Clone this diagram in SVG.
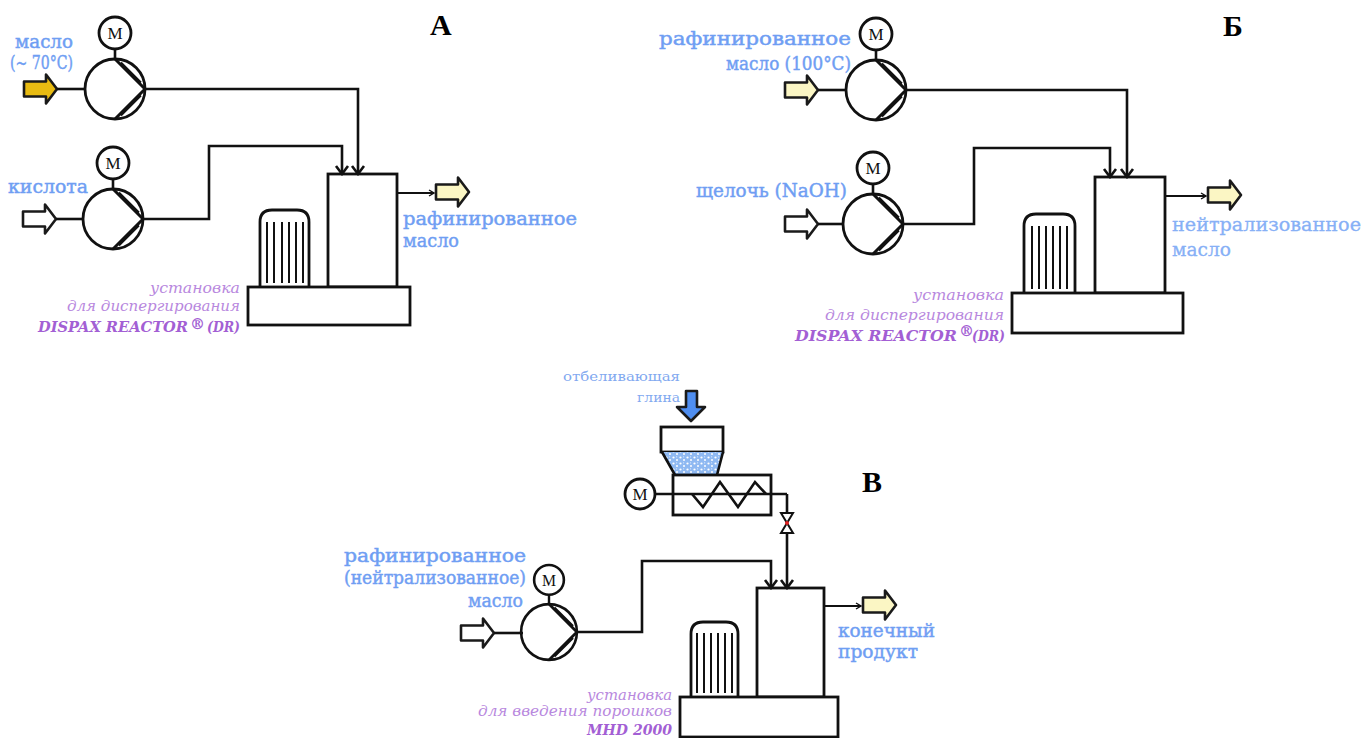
<svg xmlns="http://www.w3.org/2000/svg" width="1365" height="738" viewBox="0 0 1365 738">
<defs>
<style>
.ln{fill:none;stroke:#111;stroke-width:2.6}
.pipe{fill:none;stroke:#111;stroke-width:2.6;marker-end:url(#chev)}
.out{fill:none;stroke:#111;stroke-width:2;marker-end:url(#tick)}
.eq{fill:#fff;stroke:#111;stroke-width:2.8}
.fin{fill:none;stroke:#111;stroke-width:2}
.arw{stroke:#1a1a1a;stroke-width:2.6;stroke-linejoin:round}
.lbl{font-family:"DejaVu Serif","Liberation Serif",serif;font-size:18px;fill:#6f9ef3;stroke:#6f9ef3;stroke-width:0.45}
.lbl2{font-family:"DejaVu Serif","Liberation Serif",serif;font-size:18px;fill:#87b0f6;stroke:#87b0f6;stroke-width:0.3}
.note{font-family:"DejaVu Serif","Liberation Serif",serif;font-size:12px;fill:#82a9f0}
.pur{font-family:"DejaVu Serif","Liberation Serif",serif;font-style:italic;font-size:15px;fill:#b888de}
.purb{font-family:"DejaVu Serif","Liberation Serif",serif;font-style:italic;font-weight:bold;font-size:15px;fill:#a35fd4}
.tag{font-family:"Liberation Serif","Times New Roman",serif;font-weight:bold;font-size:30px;fill:#000}
.mt{font-family:"Liberation Serif","Times New Roman",serif;font-size:17px;fill:#111;text-anchor:middle}
.end{text-anchor:end}
</style>
<!-- block arrow, tip at origin, pointing right -->
<path id="blockArrow" d="M-33,-7.5 H-11 V-14.5 L0,0 L-11,14.5 V7.5 H-33 Z"/>
<!-- centrifugal pump with drive motor above -->
<g id="pump">
  <circle r="30" class="eq"/>
  <path fill="none" stroke="#111" stroke-width="3" d="M0,-30 L30,0 L0,30"/>
  <path fill="none" stroke="#111" stroke-width="1.8" d="M6,-26.5 L26,-6.5 M6,26.5 L26,6.5"/>
  <line class="ln" x1="0" y1="-30" x2="0" y2="-40"/>
  <circle cy="-56" r="16" class="eq" stroke-width="2.4"/>
  <text class="mt" y="-50">M</text>
</g>
<marker id="chev" viewBox="-10 -8 12 16" refX="0" refY="0" markerWidth="12" markerHeight="16" markerUnits="userSpaceOnUse" orient="auto">
  <path d="M-8,-6 L0,0 L-8,6" fill="none" stroke="#111" stroke-width="2.6"/>
</marker>
<marker id="tick" viewBox="-7 -5 8 10" refX="0" refY="0" markerWidth="8" markerHeight="10" markerUnits="userSpaceOnUse" orient="auto">
  <path d="M-5,-3 L0,0 L-5,3" fill="none" stroke="#111" stroke-width="1.4"/>
</marker>
<pattern id="powder" width="7" height="6" patternUnits="userSpaceOnUse">
  <rect width="7" height="6" fill="#8fb9f2"/>
  <circle cx="1.5" cy="1.5" r="1.1" fill="#fff"/>
  <circle cx="5" cy="4" r="1" fill="#fff"/>
  <circle cx="4.6" cy="0.8" r="0.6" fill="#dceaff"/>
</pattern>
</defs>

<rect width="1365" height="738" fill="#fff"/>

<!-- ===== А : acid treatment ===== -->
<g id="a-tag"><text class="tag" x="430" y="35">А</text></g>

<g id="a-oil-pump" transform="translate(115,89)"><use href="#pump"/></g>
<g id="a-acid-pump" transform="translate(113,219)"><use href="#pump"/></g>

<g id="a-oil-in"><use href="#blockArrow" transform="translate(57,89)" fill="#e8bb12" class="arw"/></g>
<g id="a-acid-in"><use href="#blockArrow" transform="translate(56,219)" fill="#fff" class="arw"/></g>
<g id="a-product-out"><use href="#blockArrow" transform="translate(469,192)" fill="#fbf6c4" class="arw"/></g>

<g id="a-reactor">
  <path class="eq" d="M260,287 V222 Q260,210 272,210 H297 Q309,210 309,222 V287"/>
  <path class="fin" d="M267,222 V283 M274,222 V283 M282,222 V283 M289,222 V283 M296,222 V283 M303,222 V283"/>
  <rect class="eq" x="328" y="174" width="69" height="113"/>
  <rect class="eq" x="248" y="287" width="162" height="38"/>
</g>

<g id="a-connectors">
  <path class="ln" d="M57,89 H85"/>
  <path class="ln" d="M56,219 H83"/>
  <path class="pipe" d="M145,89 H358 V174"/>
  <path class="pipe" d="M143,219 H209 V146 H342 V174"/>
  <path class="out" d="M397,193 H434"/>
</g>

<g id="a-labels">
  <text class="lbl end" x="73" y="48" textLength="58" lengthAdjust="spacingAndGlyphs">масло</text>
  <text class="lbl end" x="73" y="69" font-size="15" textLength="63" lengthAdjust="spacingAndGlyphs">(~ 70°C)</text>
  <text class="lbl" x="8" y="193" textLength="80" lengthAdjust="spacingAndGlyphs">кислота</text>
  <text class="lbl" x="403" y="225" textLength="174" lengthAdjust="spacingAndGlyphs">рафинированное</text>
  <text class="lbl" x="403" y="247" textLength="56" lengthAdjust="spacingAndGlyphs">масло</text>
  <text class="pur end" x="240" y="293" textLength="90" lengthAdjust="spacingAndGlyphs">установка</text>
  <text class="pur end" x="240" y="311" textLength="173" lengthAdjust="spacingAndGlyphs">для диспергирования</text>
  <text class="purb" x="38" y="332" textLength="150" lengthAdjust="spacingAndGlyphs">DISPAX REACTOR</text>
  <text class="purb" x="190" y="329" font-size="7">®</text>
  <text class="purb end" x="240" y="332" textLength="33" lengthAdjust="spacingAndGlyphs">(DR)</text>
</g>

<!-- ===== Б : neutralisation ===== -->
<g id="b-tag"><text class="tag" x="1223" y="36">Б</text></g>

<g id="b-oil-pump" transform="translate(876,90)"><use href="#pump"/></g>
<g id="b-lye-pump" transform="translate(873,224)"><use href="#pump"/></g>

<g id="b-oil-in"><use href="#blockArrow" transform="translate(818,90)" fill="#fbf6c4" class="arw"/></g>
<g id="b-lye-in"><use href="#blockArrow" transform="translate(818,224)" fill="#fff" class="arw"/></g>
<g id="b-product-out"><use href="#blockArrow" transform="translate(1241,195)" fill="#fbf6c4" class="arw"/></g>

<g id="b-reactor">
  <path class="eq" d="M1024,293 V226 Q1024,214 1036,214 H1063 Q1075,214 1075,226 V293"/>
  <path class="fin" d="M1032,226 V289 M1039,226 V289 M1046,226 V289 M1053,226 V289 M1060,226 V289 M1067,226 V289"/>
  <rect class="eq" x="1095" y="177" width="70" height="116"/>
  <rect class="eq" x="1012" y="293" width="171" height="40"/>
</g>

<g id="b-connectors">
  <path class="ln" d="M818,90 H846"/>
  <path class="ln" d="M818,224 H843"/>
  <path class="pipe" d="M906,90 H1127 V177"/>
  <path class="pipe" d="M903,224 H974 V148 H1110 V177"/>
  <path class="out" d="M1165,196 H1206"/>
</g>

<g id="b-labels">
  <text class="lbl end" x="851" y="45" textLength="192" lengthAdjust="spacingAndGlyphs">рафинированное</text>
  <text class="lbl end" x="851" y="70" textLength="125" lengthAdjust="spacingAndGlyphs">масло (100°C)</text>
  <text class="lbl end" x="847" y="197" textLength="151" lengthAdjust="spacingAndGlyphs">щелочь (NaOH)</text>
  <text class="lbl2" x="1172" y="231" textLength="189" lengthAdjust="spacingAndGlyphs">нейтрализованное</text>
  <text class="lbl2" x="1172" y="256" textLength="59" lengthAdjust="spacingAndGlyphs">масло</text>
  <text class="pur end" x="1004" y="300" textLength="91" lengthAdjust="spacingAndGlyphs">установка</text>
  <text class="pur end" x="1004" y="320" textLength="179" lengthAdjust="spacingAndGlyphs">для диспергирования</text>
  <text class="purb" x="795" y="341" textLength="162" lengthAdjust="spacingAndGlyphs">DISPAX REACTOR</text>
  <text class="purb" x="959" y="336" font-size="7">®</text>
  <text class="purb end" x="1005" y="341" textLength="33" lengthAdjust="spacingAndGlyphs">(DR)</text>
</g>

<!-- ===== В : bleaching ===== -->
<g id="c-tag"><text class="tag" x="862" y="492">В</text></g>

<g id="c-clay-in">
  <path class="arw" fill="#4f8ef0" d="M686,391 H697 V407 H705 L691,421 L677,407 H686 Z"/>
</g>

<g id="c-hopper">
  <rect class="eq" x="661" y="427" width="62" height="25"/>
  <polygon points="662,452 723,452 717,475 675,475" fill="url(#powder)"/>
  <path class="ln" d="M662,452 L675,475 M723,452 L717,475"/>
</g>

<g id="c-feeder">
  <rect class="eq" x="673" y="475" width="98" height="40"/>
  <polyline class="ln" points="692,494 703,507 720,482 738,507 755,482 766,494"/>
  <line class="ln" x1="655" y1="494" x2="787" y2="494"/>
  <circle cx="640" cy="494" r="15" class="eq" stroke-width="2.4"/>
  <text class="mt" x="640" y="500">M</text>
</g>

<g id="c-valve">
  <path d="M781,513 H793 L787,523 Z M787,523 L781,533 H793 Z" fill="#fff" stroke="#111" stroke-width="2"/>
  <circle cx="787" cy="523" r="2" fill="#e02020"/>
</g>

<g id="c-oil-pump" transform="translate(549,632) scale(0.93)"><use href="#pump"/></g>

<g id="c-oil-in"><use href="#blockArrow" transform="translate(494,633)" fill="#fff" class="arw"/></g>
<g id="c-product-out"><use href="#blockArrow" transform="translate(896,605)" fill="#fbf6c4" class="arw"/></g>

<g id="c-mixer">
  <path class="eq" d="M691,697 V634 Q691,622 703,622 H726 Q738,622 738,634 V697"/>
  <path class="fin" d="M697,633 V693 M704,633 V693 M711,633 V693 M718,633 V693 M725,633 V693 M732,633 V693"/>
  <rect class="eq" x="757" y="588" width="67" height="109"/>
  <rect class="eq" x="680" y="697" width="158" height="40"/>
</g>

<g id="c-connectors">
  <path class="ln" d="M494,633 H523"/>
  <path class="pipe" d="M575,632 H642 V561 H771 V588"/>
  <path class="ln" d="M787,494 V513"/>
  <path class="pipe" d="M787,533 V588"/>
  <path class="out" d="M824,606 H861"/>
</g>

<g id="c-labels">
  <text class="note end" x="680" y="381" textLength="117" lengthAdjust="spacingAndGlyphs">отбеливающая</text>
  <text class="note end" x="680" y="402" textLength="43" lengthAdjust="spacingAndGlyphs">глина</text>
  <text class="lbl end" x="526" y="562" textLength="182" lengthAdjust="spacingAndGlyphs">рафинированное</text>
  <text class="lbl end" x="526" y="584" textLength="182" lengthAdjust="spacingAndGlyphs">(нейтрализованное)</text>
  <text class="lbl end" x="523" y="607" textLength="55" lengthAdjust="spacingAndGlyphs">масло</text>
  <text class="lbl" x="838" y="637" textLength="97" lengthAdjust="spacingAndGlyphs">конечный</text>
  <text class="lbl" x="838" y="658" textLength="80" lengthAdjust="spacingAndGlyphs">продукт</text>
  <text class="pur end" x="672" y="700" textLength="85" lengthAdjust="spacingAndGlyphs">установка</text>
  <text class="pur end" x="672" y="716" textLength="194" lengthAdjust="spacingAndGlyphs">для введения порошков</text>
  <text class="purb end" x="672" y="735" font-size="13" textLength="85" lengthAdjust="spacingAndGlyphs">MHD 2000</text>
</g>
</svg>
